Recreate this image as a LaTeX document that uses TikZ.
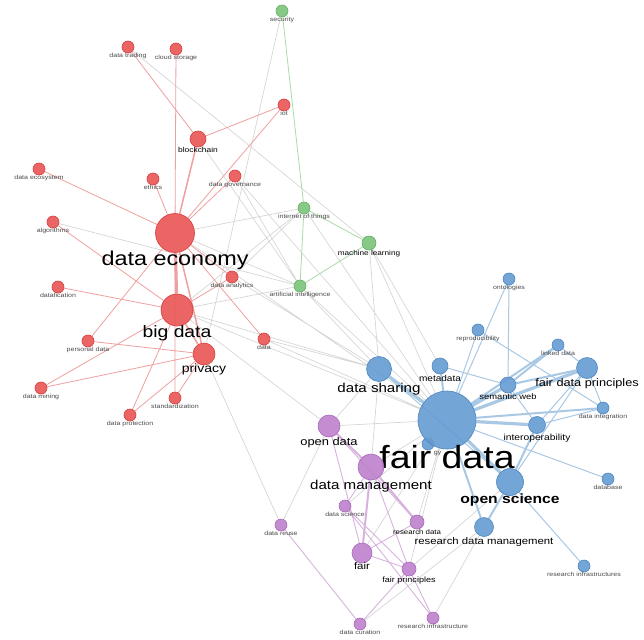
\documentclass[tikz,border=0pt]{standalone}
\usepackage{fontspec}
\setmainfont{Liberation Sans}[FakeStretch=1.17]
\usepackage{tikz}
\usetikzlibrary{backgrounds}
\definecolor{termred}{RGB}{233,84,84}
\definecolor{termredline}{RGB}{214,62,62}
\definecolor{termgreen}{RGB}{122,196,122}
\definecolor{termgreenline}{RGB}{98,176,98}
\definecolor{termblue}{RGB}{100,155,210}
\definecolor{termblueline}{RGB}{78,134,192}
\definecolor{termpurple}{RGB}{190,128,204}
\definecolor{termpurpleline}{RGB}{168,104,184}
\definecolor{linkred}{RGB}{238,160,160}
\definecolor{linkgreen}{RGB}{168,218,168}
\definecolor{linkgrey}{RGB}{214,214,214}
\definecolor{linkblue}{RGB}{168,200,228}
\definecolor{linkpurple}{RGB}{214,178,220}
\definecolor{labgrey}{RGB}{75,75,75}
\newcommand{\lsz}[1]{\fontsize{#1}{#1}\selectfont}

\begin{document}
\begin{tikzpicture}[x=1pt, y=-1pt,
  every label/.style={inner sep=0pt, text=labgrey, font=\lsz{6}},
  term/.style={circle, draw, inner sep=0pt, line width=0.6pt, minimum size=12pt, fill opacity=0.9, label distance=0pt},
  redterm/.style={term, fill=termred, draw=termredline},
  greenterm/.style={term, fill=termgreen, draw=termgreenline},
  blueterm/.style={term, fill=termblue, draw=termblueline},
  purpleterm/.style={term, fill=termpurple, draw=termpurpleline},
  big/.style={text=black, font=\lsz{#1}},
  redlink/.style={draw=linkred, line width=0.8pt},
  greenlink/.style={draw=linkgreen, line width=0.8pt},
  greylink/.style={draw=linkgrey, line width=0.7pt},
  bluelink/.style={draw=linkblue, line width=1pt},
  purplelink/.style={draw=linkpurple, line width=0.9pt}
  ]
  \useasboundingbox (0,0) rectangle (644,639);

  \node[redterm, label={below:data trading}] (dtrad) at (128,47) {};
  \node[redterm, label={below:cloud storage}] (cloud) at (176,49) {};
  \node[redterm, label={below:iot}] (iot) at (284,105) {};
  \node[redterm, minimum size=16pt, label={[big=7.2]below:blockchain}] (block) at (198,139) {};
  \node[redterm, label={below:data ecosystem}] (decosys) at (39,169) {};
  \node[redterm, label={below:ethics}] (ethics) at (153,179) {};
  \node[redterm, label={below:data governance}] (dgov) at (235,176) {};
  \node[redterm, label={below:algorithms}] (algo) at (53,222) {};
  \node[redterm, minimum size=39pt, label={[big=20,label distance=-2pt]below:data economy}] (decon) at (175,233) {};
  \node[redterm, label={below:data analytics}] (danal) at (232,277) {};
  \node[redterm, label={below:datafication}] (dfic) at (58,287) {};
  \node[redterm, minimum size=32pt, label={[big=16.5,label distance=-1pt]below:big data}] (bigd) at (177,310) {};
  \node[redterm, label={below:data}] (data) at (264,339) {};
  \node[redterm, label={below:personal data}] (pers) at (88,341) {};
  \node[redterm, minimum size=22pt, label={[big=12,label distance=-2pt]below:privacy}] (priv) at (204,354) {};
  \node[redterm, label={below:data mining}] (dmin) at (41,388) {};
  \node[redterm, label={below:standardization}] (stand) at (175,398) {};
  \node[redterm, label={below:data protection}] (dprot) at (130,415) {};

  \node[greenterm, label={below:security}] (secu) at (282,11) {};
  \node[greenterm, label={below:internet of things}] (iotg) at (304,208) {};
  \node[greenterm, minimum size=14pt, label={[big=7]below:machine learning}] (mlearn) at (369,243) {};
  \node[greenterm, label={below:artificial intelligence}] (ai) at (300,286) {};

  \node[blueterm, label={below:ontologies}] (onto) at (509,279) {};
  \node[blueterm, label={below:reproducibility}] (repro) at (478,330) {};
  \node[blueterm, label={below:linked data}] (linked) at (558,345) {};
  \node[blueterm, minimum size=16pt, label={[big=8.6,label distance=1pt]below:metadata}] (meta) at (440,366) {};
  \node[blueterm, minimum size=21pt, label={[big=10.9]below:fair data principles}] (fdp) at (587,368) {};
  \node[blueterm, minimum size=16pt, label={[big=8]below:semantic web}] (semweb) at (508,385) {};
  \node[blueterm, minimum size=25pt, label={[big=12.9,label distance=1pt]below:data sharing}] (dshare) at (379,369) {};
  \node[blueterm, label={below:data integration}] (dint) at (603,408) {};
  \node[blueterm, minimum size=17pt, label={[big=8.8]below:interoperability}] (interop) at (537,425) {};
  \node[blueterm, label={below:{\color{white}ontolo}gy}] (ontgy) at (428,444) {};
  \node[blueterm, minimum size=58pt, label={[big=32,label distance=-4pt]below:fair data}] (fairdata) at (447,420) {};
  \node[blueterm, minimum size=27pt, label={[big=13.4,font=\lsz{13.4}\bfseries,label distance=-2pt]below:open science}] (osci) at (510,482) {};
  \node[blueterm, label={below:database}] (dbase) at (608,479) {};
  \node[blueterm, minimum size=19pt, label={[big=9.7]below:research data management}] (rdm) at (484,527) {};
  \node[blueterm, label={below:research infrastructures}] (rinfs) at (584,566) {};

  \node[purpleterm, minimum size=22pt, label={[big=11]below:open data}] (odata) at (329,426) {};
  \node[purpleterm, minimum size=26pt, label={[big=12.9]below:data management}] (dman) at (371,467) {};
  \node[purpleterm, label={below:data science}] (dsci) at (345,506) {};
  \node[purpleterm, minimum size=14pt, label={[big=6.7]below:research data}] (rdata) at (417,522) {};
  \node[purpleterm, label={below:data reuse}] (dreuse) at (281,525) {};
  \node[purpleterm, minimum size=20pt, label={[big=9.8,label distance=-1pt]below:fair}] (fair) at (362,553) {};
  \node[purpleterm, minimum size=14pt, label={[big=7.7]below:fair principles}] (fprin) at (409,569) {};
  \node[purpleterm, label={below:research infrastructure}] (rinf) at (433,618) {};
  \node[purpleterm, label={below:data curation}] (dcur) at (360,624) {};

  \begin{pgfonlayer}{background}
  \draw[greylink] (secu) -- (priv) (dtrad) -- (mlearn) (block) -- (ai) (decon) -- (iotg) (decon) -- (ai)
    (bigd) -- (ai) (bigd) -- (iotg) (algo) -- (ai) (danal) -- (iotg) (danal) -- (dshare)
    (decon) -- (fairdata) (bigd) -- (fairdata) (bigd) -- (odata) (bigd) -- (dshare) (data) -- (fairdata)
    (data) -- (dshare) (priv) -- (dreuse) (dgov) -- (fairdata) (dgov) -- (ai) (mlearn) -- (dshare)
    (mlearn) -- (fairdata) (mlearn) -- (meta) (ai) -- (fairdata) (ai) -- (dshare) (iotg) -- (fairdata)
    (odata) -- (fairdata) (dman) -- (fairdata) (odata) -- (dshare) (dman) -- (dshare) (rdata) -- (fairdata)
    (fprin) -- (fairdata) (fair) -- (fairdata) (dcur) -- (rdm) (rinf) -- (rdm) (fprin) -- (osci)
    (dsci) -- (fairdata) (dreuse) -- (odata);
  \draw[redlink] (dtrad) -- (block) (cloud) -- (decon) (iot) -- (block) (iot) -- (decon)
    (decosys) -- (decon) (ethics) -- (decon) (dgov) -- (decon) (algo) -- (bigd) (dfic) -- (bigd)
    (decon) -- (data) (bigd) -- (danal) (decon) -- (danal) (pers) -- (decon) (pers) -- (priv)
    (dmin) -- (bigd) (dmin) -- (priv) (stand) -- (decon) (stand) -- (priv) (dprot) -- (bigd) (dprot) -- (priv);
  \draw[redlink, line width=1.5pt] (block) -- (decon) (bigd) -- (priv) (decon) -- (priv);
  \draw[redlink, line width=3pt] (decon) -- (bigd);
  \draw[greenlink] (secu) -- (iotg) (iotg) -- (mlearn) (iotg) -- (ai) (ai) -- (mlearn);
  \draw[bluelink] (fairdata) -- (dbase) (fairdata) -- (repro) (fairdata) -- (onto) (onto) -- (semweb)
    (repro) -- (dint) (linked) -- (fdp) (fdp) -- (dint) (fdp) -- (interop) (fdp) -- (osci)
    (interop) -- (dint) (osci) -- (rinfs) (dshare) -- (osci) (meta) -- (semweb) (semweb) -- (interop);
  \draw[bluelink, line width=2pt] (fairdata) -- (meta) (fairdata) -- (linked) (fairdata) -- (dint)
    (fairdata) -- (rdm) (fairdata) -- (ontgy) (linked) -- (semweb) (fdp) -- (semweb) (interop) -- (osci) (osci) -- (rdm);
  \draw[bluelink, line width=3.2pt] (fairdata) -- (dshare) (fairdata) -- (semweb) (fairdata) -- (fdp)
    (fairdata) -- (interop) (fairdata) -- (osci);
  \draw[purplelink] (odata) -- (rdata) (dman) -- (fprin) (dman) -- (dsci) (dsci) -- (fprin) (dsci) -- (rinf)
    (fair) -- (rdata) (fair) -- (fprin) (fprin) -- (rinf) (fprin) -- (dcur) (dreuse) -- (dcur) (odata) -- (fair);
  \draw[purplelink, line width=2pt] (odata) -- (dman) (dman) -- (fair) (dman) -- (rdata);
  \end{pgfonlayer}

\end{tikzpicture}
\end{document}
